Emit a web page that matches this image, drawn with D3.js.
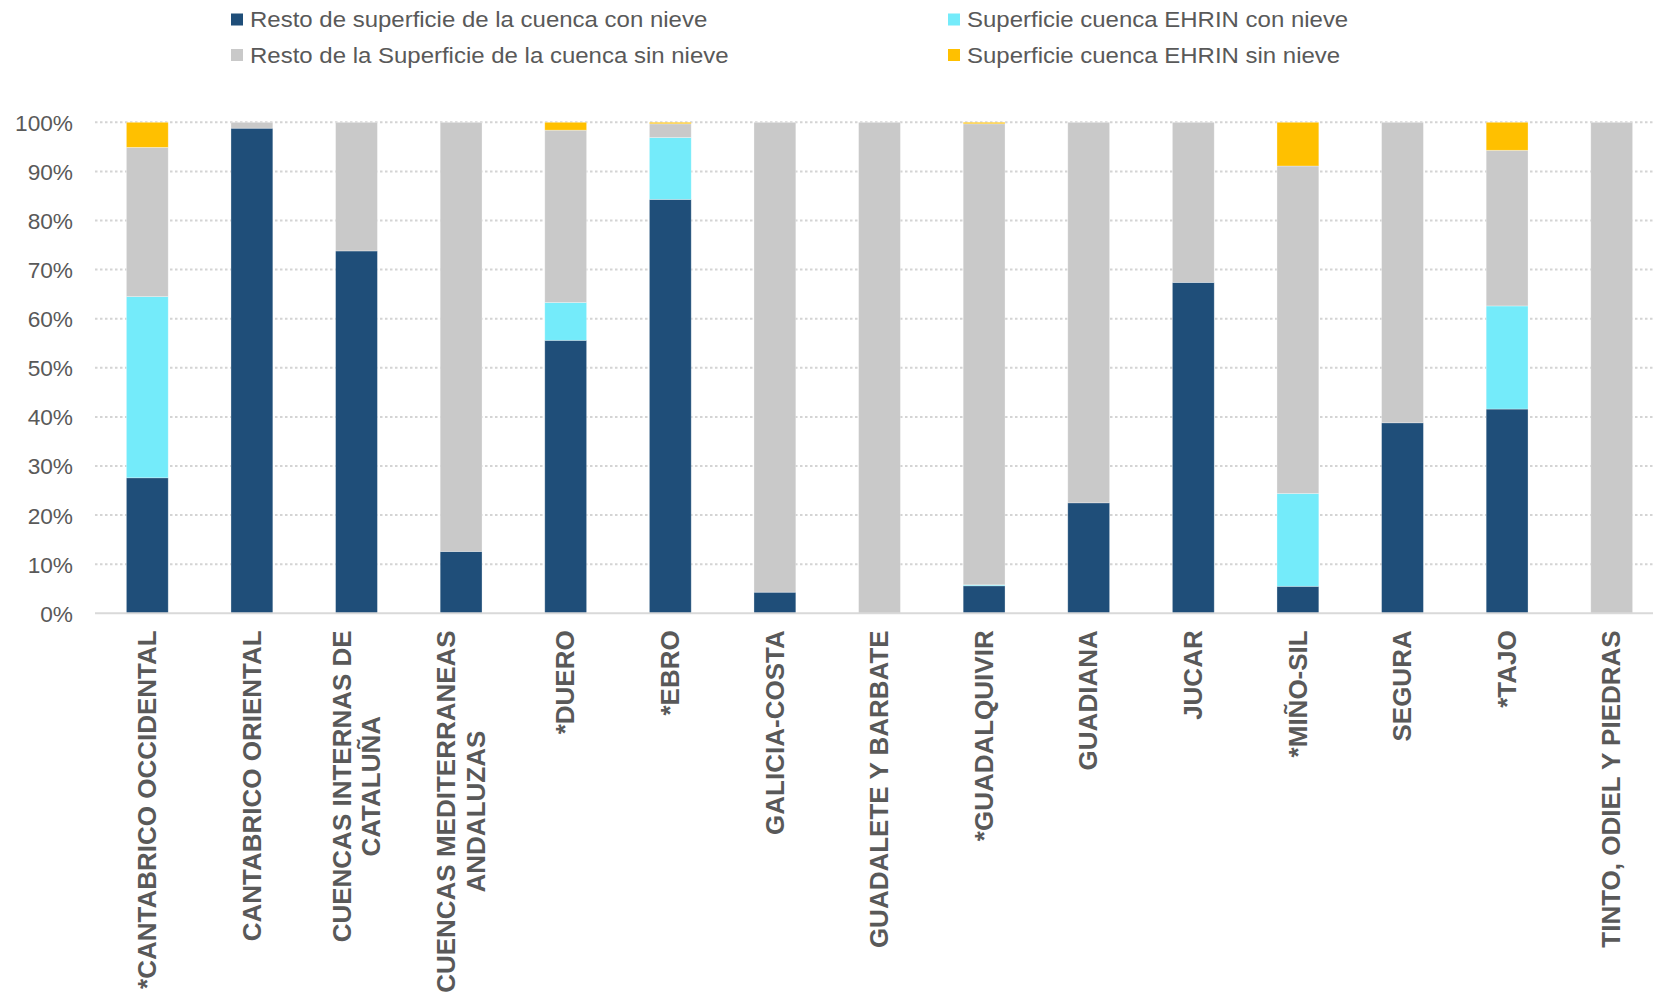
<!DOCTYPE html>
<html>
<head>
<meta charset="utf-8">
<script src="https://cdn.jsdelivr.net/npm/d3@7"></script>
<style>
  html, body { margin: 0; padding: 0; background: #fff; }
  svg { display: block; font-family: 'Liberation Sans', Arial, sans-serif; }
</style>
</head>
<body>
<svg id="chart"></svg>
<script>
// cuencas (eje X)
const categories = [
  '*CANTABRICO OCCIDENTAL', 'CANTABRICO ORIENTAL', 'CUENCAS INTERNAS DE CATALUÑA',
  'CUENCAS MEDITERRANEAS ANDALUZAS', '*DUERO', '*EBRO', 'GALICIA-COSTA',
  'GUADALETE Y BARBATE', '*GUADALQUIVIR', 'GUADIANA', 'JUCAR', '*MIÑO-SIL',
  'SEGURA', '*TAJO', 'TINTO, ODIEL Y PIEDRAS'
];

// % de superficie
const restoConNieve = [27.6, 98.8, 73.8, 12.6, 55.6, 84.3, 4.3, 0, 5.6, 22.5, 67.4, 5.5, 38.8, 41.6, 0];
const ehrinConNieve = [36.9, 0, 0, 0, 7.7, 12.6, 0, 0, 0.2, 0, 0, 18.9, 0, 21.0, 0];
const restoSinNieve = [30.4, 1.2, 26.2, 87.4, 35.1, 2.8, 95.7, 100, 93.9, 77.5, 32.6, 66.7, 61.2, 31.7, 100];
const ehrinSinNieve = [5.1, 0, 0, 0, 1.6, 0.3, 0, 0, 0.3, 0, 0, 8.9, 0, 5.7, 0];

const seriesNames = [
  'Resto de superficie de la cuenca con nieve',
  'Superficie cuenca EHRIN con nieve',
  'Resto de la Superficie de la cuenca sin nieve',
  'Superficie cuenca EHRIN sin nieve'
];
const yTicks = [0, 0.1, 0.2, 0.3, 0.4, 0.5, 0.6, 0.7, 0.8, 0.9, 1];

const colors = ['#1f4e79', '#74ebfa', '#c9c9c9', '#ffc000'];
const textColor = '#595959';

const width = 1653;
const height = 1003;
const margin = { top: 122.3, left: 95, bottom: 1003 - 613.3 };
const plotRight = 95 + 15 * 104.6;

const svg = d3.select('#chart').attr('width', width).attr('height', height);

const table = categories.map((c, i) => ({
  cat: c,
  s0: restoConNieve[i],
  s1: ehrinConNieve[i],
  s2: restoSinNieve[i],
  s3: ehrinSinNieve[i]
}));

const stacked = d3.stack()
  .keys(['s0', 's1', 's2', 's3'])
  .offset(d3.stackOffsetExpand)(table);

const x = d3.scaleBand()
  .domain(categories)
  .range([margin.left, plotRight])
  .paddingInner(0.6)
  .paddingOuter(0.3);

const y = d3.scaleLinear()
  .domain([0, 1])
  .range([height - margin.bottom, margin.top]);

// stretch text horizontally to match the reference's wide lettering
const stretch = (sel, k) => sel.each(function () {
  const len = this.getComputedTextLength();
  d3.select(this).attr('textLength', len * k).attr('lengthAdjust', 'spacingAndGlyphs');
});

// gridlines
const grid = svg.append('g').attr('class', 'grid');
grid.selectAll('line')
  .data(yTicks.filter(t => t > 0))
  .join('line')
  .attr('x1', margin.left)
  .attr('x2', plotRight)
  .attr('y1', d => y(d))
  .attr('y2', d => y(d))
  .attr('stroke', '#d4d4d4')
  .attr('stroke-width', 2)
  .attr('stroke-dasharray', '2.5,2.5');

// y axis labels
const yAxis = svg.append('g')
  .attr('transform', `translate(${margin.left - 22},0)`)
  .call(d3.axisLeft(y).tickValues(yTicks).tickFormat(d3.format('.0%')).tickSize(0).tickPadding(0));
yAxis.select('.domain').remove();
yAxis.selectAll('text')
  .attr('fill', textColor)
  .style('font-size', '22px')
  .attr('font-family', "'Liberation Sans', Arial, sans-serif")
  .attr('dy', '0.36em')
  .call(stretch, 1.03);

// bars
const layer = svg.append('g').attr('class', 'bars')
  .selectAll('g')
  .data(stacked)
  .join('g')
  .attr('fill', (d, i) => colors[i]);

layer.selectAll('rect')
  .data(d => d.map(v => ({ v, cat: v.data.cat })))
  .join('rect')
  .attr('x', d => x(d.cat))
  .attr('width', x.bandwidth())
  .attr('y', d => y(d.v[1]))
  .attr('height', d => Math.max(0, y(d.v[0]) - y(d.v[1])))
  .attr('stroke', '#ffffff')
  .attr('stroke-opacity', 0.4)
  .attr('stroke-width', 0.75);

// baseline
svg.append('line')
  .attr('x1', margin.left)
  .attr('x2', plotRight)
  .attr('y1', y(0))
  .attr('y2', y(0))
  .attr('stroke', '#d9d9d9')
  .attr('stroke-width', 2);

// x labels, rotated, wrapped like Excel
const labelTop = y(0) + 17;
const lineGap = 29.5;
const wrapWidth = 370;
const measure = svg.append('text')
  .style('font-size', '25px')
  .style('font-weight', 'bold')
  .attr('visibility', 'hidden');

function wrap(label) {
  const words = label.split(' ');
  const lines = [];
  let cur = '';
  words.forEach(w => {
    const test = cur ? cur + ' ' + w : w;
    measure.text(test);
    if (cur && measure.node().getComputedTextLength() > wrapWidth) {
      lines.push(cur);
      cur = w;
    } else {
      cur = test;
    }
  });
  lines.push(cur);
  return lines;
}

const xLabels = svg.append('g').attr('class', 'x-labels');
categories.forEach(cat => {
  const lines = wrap(cat);
  const cx = x(cat) + x.bandwidth() / 2;
  const g = xLabels.append('g');
  const texts = g.selectAll('text')
    .data(lines)
    .join('text')
    .text(d => d)
    .attr('fill', textColor)
    .style('font-size', '25px')
    .style('font-weight', 'bold')
    .attr('text-anchor', 'middle')
    .attr('dy', '0.35em')
    .call(stretch, 1.04);
  const maxLen = d3.max(texts.nodes(), n => +n.getAttribute('textLength'));
  const cy = labelTop + maxLen / 2;
  texts.attr('transform', (d, i) => {
    const off = (i - (lines.length - 1) / 2) * lineGap;
    return `translate(${cx + off},${cy}) rotate(-90)`;
  });
});
measure.remove();

// legend
const legendPos = [
  { x: 231, y: 19.5 },
  { x: 948, y: 19.5 },
  { x: 231, y: 55 },
  { x: 948, y: 55 }
];
const legend = svg.append('g').attr('class', 'legend')
  .selectAll('g')
  .data(seriesNames)
  .join('g')
  .attr('transform', (d, i) => `translate(${legendPos[i].x},${legendPos[i].y})`);

legend.append('rect')
  .attr('x', 0)
  .attr('y', -6)
  .attr('width', 12)
  .attr('height', 12)
  .attr('fill', (d, i) => colors[i]);

legend.append('text')
  .attr('x', 19)
  .attr('dy', '0.36em')
  .attr('fill', textColor)
  .style('font-size', '22px')
  .text(d => d)
  .call(stretch, 1.09);
</script>
</body>
</html>
